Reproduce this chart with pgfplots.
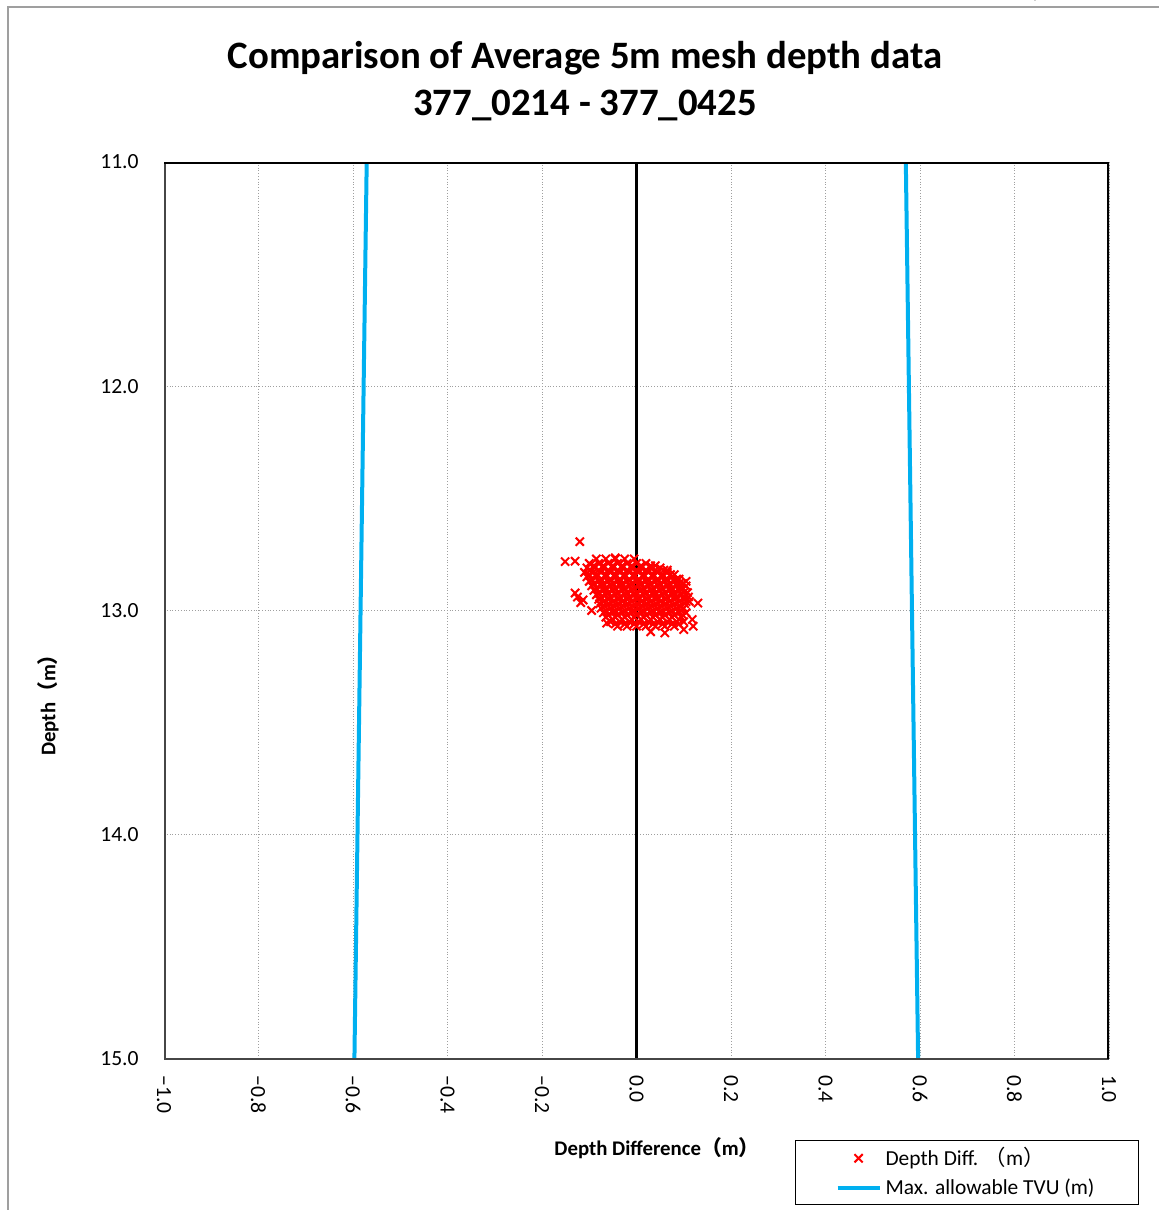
\documentclass[border=0pt]{standalone}
\usepackage{pgfplots}
\pgfplotsset{compat=1.18}
\usepackage{fontspec}
\setmainfont{Carlito}
\newfontfamily\cjk{Noto Sans CJK JP}
\definecolor{tvublue}{HTML}{00B0F0}
\newcommand{\fw}[1]{{\cjk #1}}

% depth difference (m) vs. depth (m)
\pgfplotstableread{
dd      d
-0.085  12.77
-0.065  12.77
-0.045  12.77
-0.025  12.77
-0.005  12.77
-0.100  12.79
-0.080  12.79
-0.060  12.79
-0.040  12.79
-0.020  12.79
 0.000  12.79
 0.020  12.79
 0.040  12.80
-0.105  12.81
-0.088  12.81
-0.070  12.81
-0.050  12.81
-0.030  12.81
-0.010  12.81
 0.010  12.81
 0.030  12.81
 0.050  12.81
 0.065  12.82
-0.110  12.83
-0.092  12.83
-0.075  12.83
-0.055  12.83
-0.035  12.83
-0.015  12.83
 0.005  12.83
 0.025  12.83
 0.045  12.83
 0.065  12.83
 0.080  12.84
-0.105  12.85
-0.085  12.85
-0.065  12.85
-0.045  12.85
-0.025  12.85
-0.005  12.85
 0.015  12.85
 0.035  12.85
 0.055  12.85
 0.075  12.85
 0.090  12.86
-0.100  12.87
-0.080  12.87
-0.060  12.87
-0.040  12.87
-0.020  12.87
 0.000  12.87
 0.020  12.87
 0.040  12.87
 0.060  12.87
 0.080  12.87
 0.098  12.88
-0.095  12.89
-0.075  12.89
-0.055  12.89
-0.035  12.89
-0.015  12.89
 0.005  12.89
 0.025  12.89
 0.045  12.89
 0.065  12.89
 0.085  12.89
 0.105  12.89
-0.090  12.91
-0.070  12.91
-0.050  12.91
-0.030  12.91
-0.010  12.91
 0.010  12.91
 0.030  12.91
 0.050  12.91
 0.070  12.91
 0.090  12.91
 0.108  12.92
-0.085  12.93
-0.065  12.93
-0.045  12.93
-0.025  12.93
-0.005  12.93
 0.015  12.93
 0.035  12.93
 0.055  12.93
 0.075  12.93
 0.095  12.93
 0.110  12.94
-0.080  12.95
-0.060  12.95
-0.040  12.95
-0.020  12.95
 0.000  12.95
 0.020  12.95
 0.040  12.95
 0.060  12.95
 0.080  12.95
 0.100  12.95
 0.112  12.96
-0.078  12.97
-0.058  12.97
-0.038  12.97
-0.018  12.97
 0.002  12.97
 0.022  12.97
 0.042  12.97
 0.062  12.97
 0.082  12.97
 0.102  12.97
-0.075  12.99
-0.055  12.99
-0.035  12.99
-0.015  12.99
 0.005  12.99
 0.025  12.99
 0.045  12.99
 0.065  12.99
 0.085  12.99
 0.100  12.99
-0.070  13.01
-0.050  13.01
-0.030  13.01
-0.010  13.01
 0.010  13.01
 0.030  13.01
 0.050  13.01
 0.070  13.01
 0.090  13.01
 0.105  13.01
-0.065  13.03
-0.045  13.03
-0.025  13.03
-0.005  13.03
 0.015  13.03
 0.035  13.03
 0.055  13.03
 0.075  13.03
 0.095  13.03
-0.055  13.05
-0.035  13.05
-0.015  13.05
 0.005  13.05
 0.025  13.05
 0.045  13.05
 0.065  13.05
 0.085  13.05
 0.100  13.05
-0.040  13.07
-0.020  13.07
 0.000  13.07
 0.020  13.07
 0.040  13.07
 0.060  13.07
 0.080  13.07
-0.090  12.80
-0.070  12.80
-0.050  12.80
-0.030  12.80
-0.010  12.80
 0.010  12.80
 0.030  12.80
-0.098  12.82
-0.080  12.82
-0.060  12.82
-0.040  12.82
-0.020  12.82
 0.000  12.82
 0.020  12.82
 0.040  12.82
 0.058  12.82
-0.100  12.84
-0.083  12.84
-0.065  12.84
-0.045  12.84
-0.025  12.84
-0.005  12.84
 0.015  12.84
 0.035  12.84
 0.055  12.84
 0.072  12.84
-0.095  12.86
-0.075  12.86
-0.055  12.86
-0.035  12.86
-0.015  12.86
 0.005  12.86
 0.025  12.86
 0.045  12.86
 0.065  12.86
 0.085  12.86
-0.090  12.88
-0.070  12.88
-0.050  12.88
-0.030  12.88
-0.010  12.88
 0.010  12.88
 0.030  12.88
 0.050  12.88
 0.070  12.88
 0.090  12.88
-0.085  12.90
-0.065  12.90
-0.045  12.90
-0.025  12.90
-0.005  12.90
 0.015  12.90
 0.035  12.90
 0.055  12.90
 0.075  12.90
 0.095  12.90
-0.080  12.92
-0.060  12.92
-0.040  12.92
-0.020  12.92
 0.000  12.92
 0.020  12.92
 0.040  12.92
 0.060  12.92
 0.080  12.92
 0.100  12.92
-0.075  12.94
-0.055  12.94
-0.035  12.94
-0.015  12.94
 0.005  12.94
 0.025  12.94
 0.045  12.94
 0.065  12.94
 0.085  12.94
 0.102  12.94
-0.070  12.96
-0.050  12.96
-0.030  12.96
-0.010  12.96
 0.010  12.96
 0.030  12.96
 0.050  12.96
 0.070  12.96
 0.090  12.96
 0.105  12.96
-0.068  12.98
-0.048  12.98
-0.028  12.98
-0.008  12.98
 0.012  12.98
 0.032  12.98
 0.052  12.98
 0.072  12.98
 0.092  12.98
-0.065  13.00
-0.045  13.00
-0.025  13.00
-0.005  13.00
 0.015  13.00
 0.035  13.00
 0.055  13.00
 0.075  13.00
 0.095  13.00
-0.060  13.02
-0.040  13.02
-0.020  13.02
 0.000  13.02
 0.020  13.02
 0.040  13.02
 0.060  13.02
 0.080  13.02
 0.098  13.02
-0.050  13.04
-0.030  13.04
-0.010  13.04
 0.010  13.04
 0.030  13.04
 0.050  13.04
 0.070  13.04
 0.090  13.04
-0.045  13.06
-0.025  13.06
-0.005  13.06
 0.015  13.06
 0.035  13.06
 0.055  13.06
 0.075  13.06
 0.090  13.06
-0.120  12.693
-0.151  12.782
-0.130  12.922
-0.113  12.953
-0.125  12.940
-0.118  12.965
-0.130  12.780
-0.095  13.000
-0.063  13.056
-0.045  12.765
 0.130  12.967
 0.120  13.070
 0.118  13.040
 0.060  13.100
 0.030  13.095
 0.100  13.085
 0.095  12.905
 0.105  12.870
}\depthdiff

\begin{document}
\begin{tikzpicture}[x=0.5pt,y=0.5pt]
\useasboundingbox (0,0) rectangle (1158,1210);
% page frame
\draw[gray!75, line width=1.1pt] (8,-10) -- (8,1203) -- (1170,1203);
\node[anchor=base west, font=\fontsize{10}{12}\selectfont, inner sep=0pt] at (985,1212) {d\,=\,depth};

\begin{axis}[
  at={(82pt,75.5pt)}, anchor=south west,
  scale only axis, width=472.5pt, height=448.5pt,
  xmin=-1, xmax=1, ymin=11, ymax=15, y dir=reverse,
  axis line style={draw=none},
  major tick length=0pt,
  xtick={-1,-0.8,-0.6,-0.4,-0.2,0,0.2,0.4,0.6,0.8,1},
  xticklabels={−1.0,−0.8,−0.6,−0.4,−0.2,0.0,0.2,0.4,0.6,0.8,1.0},
  ytick={11,12,13,14,15},
  yticklabels={11.0,12.0,13.0,14.0,15.0},
  ticklabel style={font=\fontsize{10.8}{12}\selectfont},
  xticklabel style={rotate=-90, anchor=west, inner xsep=8pt},
  yticklabel style={inner xsep=12.5pt},
  grid=major,
  major grid style={densely dotted, gray!75, line width=0.5pt},
  legend style={at={(axis description cs:0.6677,-0.0903)}, anchor=north west,
    draw=black, line width=0.6pt, font=\fontsize{10.7}{12.5}\selectfont,
    inner xsep=20pt, inner ysep=1.5pt, row sep=1pt},
  legend cell align=left,
  legend image code/.code={\draw[mark repeat=2,mark phase=2,#1]
    plot coordinates {(0pt,0pt) (10.5pt,0pt) (21pt,0pt)};},
]
% zero-difference reference
\addplot[black, line width=1.2pt, forget plot] coordinates {(0,11) (0,15)};
% depth differences
\addplot[only marks, mark=x, mark size=2.9pt, red, mark options={line width=1pt}]
  table[x=dd, y=d] {\depthdiff};
\addlegendentry{Depth Diff. \fw{（}m\fw{）}}
% allowable TVU envelope
\addplot[tvublue, line width=2pt] coordinates {(-0.571,11) (-0.597,15)};
\addlegendentry{Max. allowable TVU (m)}
\addplot[tvublue, line width=2pt, forget plot] coordinates {(0.570,11) (0.596,15)};
% plot frame
\draw[gray!55!black, line width=1.5pt] (axis cs:-1,11) -- (axis cs:-1,15) -- (axis cs:1,15);
\draw[black, line width=1.6pt] (axis cs:-1,11) -- (axis cs:1,11) -- (axis cs:1,15);
\end{axis}

\node[font=\bfseries\fontsize{19.4}{23}\selectfont] at (585,1152) {Comparison of Average 5m mesh depth data};
\node[font=\bfseries\fontsize{19.4}{23}\selectfont] at (585,1104) {377\_0214 - 377\_0425};
\node[font=\bfseries\fontsize{10.4}{12}\selectfont] at (657,62) {Depth Difference\fw{（}m\fw{）}};
\node[font=\bfseries\fontsize{10.4}{12}\selectfont, rotate=90] at (48,510) {Depth\fw{（}m\fw{）}};
\end{tikzpicture}
\end{document}
